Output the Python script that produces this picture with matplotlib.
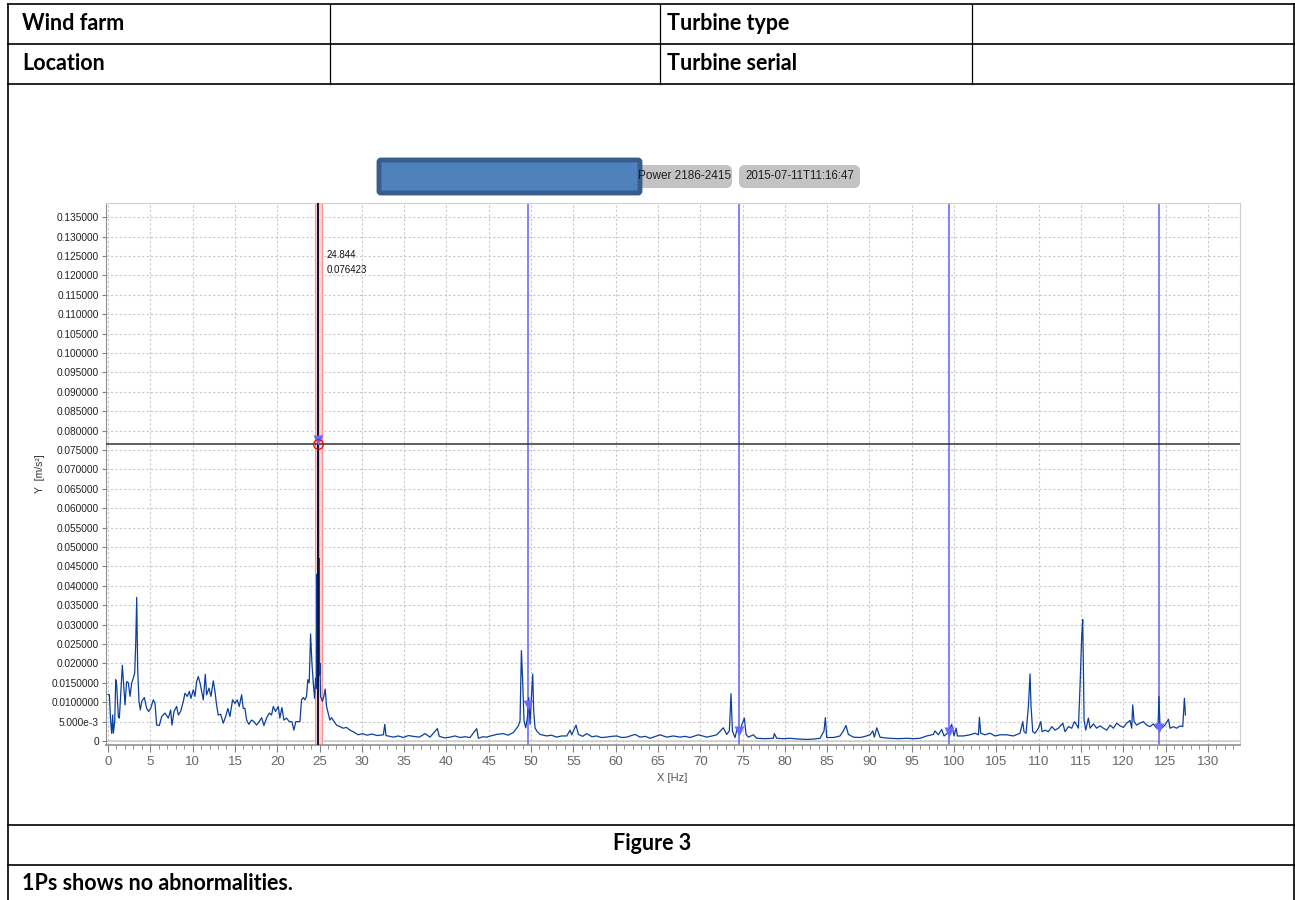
import matplotlib
matplotlib.use("Agg")
import matplotlib.pyplot as plt
from matplotlib.patches import FancyBboxPatch
from matplotlib.ticker import MultipleLocator

plt.rcParams['font.family'] = ['Liberation Sans', 'DejaVu Sans']

# spectrum (Hz, m/s^2)
freq_hz = [
    0.00, 0.16, 0.31, 0.43, 0.55, 0.63, 0.79, 0.91, 1.02, 1.22, 1.34, 1.50, 1.69, 1.85, 2.01,
    2.20, 2.40, 2.60, 2.80, 2.99, 3.15, 3.27, 3.39, 3.50, 3.66, 3.82, 3.98, 4.29, 4.57, 4.80,
    5.04, 5.35, 5.55, 5.75, 6.06, 6.34, 6.73, 7.13, 7.40, 7.56, 7.80, 8.11, 8.31, 8.58, 8.90,
    9.09, 9.37, 9.61, 9.80, 10.08, 10.28, 10.47, 10.67, 10.87, 11.06, 11.26, 11.50, 11.65, 11.93,
    12.17, 12.44, 12.64, 12.83, 13.03, 13.31, 13.62, 13.90, 14.17, 14.41, 14.72, 15.00, 15.28,
    15.51, 15.79, 15.98, 16.18, 16.38, 16.65, 16.97, 17.24, 17.56, 17.87, 18.15, 18.43, 18.74,
    19.06, 19.33, 19.53, 19.80, 20.12, 20.31, 20.55, 20.79, 21.10, 21.42, 21.73, 21.97, 22.20,
    22.48, 22.68, 22.87, 23.07, 23.27, 23.46, 23.62, 23.78, 23.94, 24.09, 24.25, 24.41, 24.53,
    24.65, 24.70, 24.76, 24.844, 24.90, 24.95, 25.00, 25.05, 25.12, 25.35, 25.51, 25.67, 25.83,
    26.02, 26.22, 26.42, 26.61, 27.01, 27.40, 27.80, 28.19, 28.58, 28.98, 29.57,
    30.1, 30.6, 31.2, 31.8, 32.55, 32.71, 32.86, 33.3, 33.73, 34.3, 34.91, 35.5, 36.09, 36.8,
    37.47, 38.06, 38.93, 39.16, 39.8, 40.43, 41.0, 41.61, 42.2, 42.79, 43.58, 43.78, 44.3,
    44.76, 45.4, 45.94, 46.73, 47.3, 47.91, 48.50, 48.70, 48.86, 49.01, 49.17,
    49.37, 49.57, 49.73, 49.88, 50.04, 50.20, 50.31, 50.47, 50.67, 51.06, 51.85, 52.4, 53.03,
    53.6, 54.22, 54.61, 54.81, 55.32, 55.60, 56.1, 56.58, 57.2, 57.76, 58.3, 58.94, 59.5, 60.12,
    60.7, 61.31, 62.29, 62.88, 63.5, 64.07,
    64.6, 65.25, 66.04, 66.82, 67.61, 68.2, 68.79, 69.78, 70.77, 71.4, 71.95, 72.73, 73.13,
    73.44, 73.64, 73.80, 74.11, 74.39, 74.70, 74.94, 75.22, 75.41, 75.69, 76.28, 76.67, 77.6,
    78.64, 78.76, 79.04, 79.8, 80.61, 81.6, 82.58, 83.4, 84.16, 84.63, 84.79, 84.95, 85.74,
    86.52, 86.92, 87.23, 87.51, 88.10, 88.89, 89.5, 90.07, 90.39, 90.58, 90.86, 91.25, 91.8,
    92.43, 93.4, 94.40, 95.2, 95.98, 96.77, 97.56, 97.75, 98.15, 98.54, 98.82,
    99.33, 99.72, 100.0, 100.24, 100.40, 101.1, 101.9, 102.48, 102.88, 103.0, 103.15, 103.66,
    104.26, 104.85, 105.44, 106.23, 107.01, 107.80, 108.12, 108.27, 108.51, 108.79, 108.98,
    109.10, 109.30, 109.57, 109.97, 110.25, 110.40, 110.76, 111.15, 111.55, 111.94, 112.33,
    112.85, 113.12, 113.52, 113.91, 114.23, 114.50, 114.70, 114.89, 115.09, 115.21, 115.37,
    115.56, 115.88, 116.08, 116.47, 116.86, 117.26, 117.65, 118.05, 118.44, 118.83, 119.23,
    119.62, 120.02, 120.41, 120.80, 121.0, 121.12, 121.28, 121.59, 121.99, 122.38, 122.77,
    123.17, 123.56, 123.96, 124.10, 124.22, 124.35, 124.55, 124.94, 125.34, 125.53, 125.93,
    126.32, 126.71, 127.03, 127.23, 127.35,
]
accel = [
    0.0120, 0.0119, 0.0050, 0.0020, 0.0067, 0.0020, 0.0050, 0.0158, 0.0145, 0.0063, 0.0059,
    0.0119, 0.0195, 0.0145, 0.0093, 0.0153, 0.0150, 0.0115, 0.0150, 0.0162, 0.0175, 0.0248,
    0.0370, 0.0188, 0.0102, 0.0080, 0.0102, 0.0112, 0.0084, 0.0076, 0.0084, 0.0106, 0.0097,
    0.0041, 0.0040, 0.0063, 0.0072, 0.0059, 0.0080, 0.0041, 0.0076, 0.0089, 0.0067, 0.0076,
    0.0102, 0.0123, 0.0115, 0.0128, 0.0110, 0.0132, 0.0115, 0.0153, 0.0166, 0.0150, 0.0128,
    0.0106, 0.0172, 0.0119, 0.0136, 0.0115, 0.0155, 0.0128, 0.0093, 0.0067, 0.0069, 0.0046,
    0.0063, 0.0084, 0.0063, 0.0106, 0.0097, 0.0106, 0.0089, 0.0119, 0.0084, 0.0084, 0.0054,
    0.0043, 0.0054, 0.0050, 0.0041, 0.0050, 0.0060, 0.0040, 0.0059, 0.0072, 0.0067, 0.0089,
    0.0076, 0.0089, 0.0059, 0.0086, 0.0054, 0.0059, 0.0050, 0.0050, 0.0028, 0.0050, 0.0050,
    0.0050, 0.0106, 0.0112, 0.0106, 0.0115, 0.0158, 0.0150, 0.0276, 0.0205, 0.0153, 0.0110,
    0.0162, 0.0136, 0.0430, 0.0180, 0.1370, 0.0300, 0.0470, 0.0170, 0.0200, 0.0115, 0.0102,
    0.0115, 0.0134, 0.0089, 0.0072, 0.0054, 0.0060, 0.0054, 0.0041, 0.0037, 0.0033, 0.0035,
    0.0028, 0.0024, 0.0016,
    0.0019, 0.0015, 0.0018, 0.0014, 0.0016, 0.0043, 0.0014, 0.0012, 0.0010, 0.0013, 0.0009,
    0.0014, 0.0012, 0.0010, 0.0019, 0.0010, 0.0032, 0.0012, 0.0008, 0.0010, 0.0013, 0.0009,
    0.0011, 0.0009, 0.0032, 0.0007, 0.0011, 0.0010, 0.0014, 0.0017, 0.0019, 0.0015, 0.0022,
    0.0039, 0.0052, 0.0233, 0.0155, 0.0052,
    0.0034, 0.0060, 0.0112, 0.0043, 0.0112, 0.0172, 0.0078, 0.0034, 0.0026, 0.0017, 0.0013,
    0.0015, 0.0010, 0.0013, 0.0013, 0.0028, 0.0016, 0.0041, 0.0017, 0.0012, 0.0019, 0.0011,
    0.0013, 0.0009, 0.0010, 0.0012, 0.0013, 0.0009, 0.0010, 0.0017, 0.0010, 0.0012, 0.0007,
    0.0011, 0.0016, 0.0010, 0.0013, 0.0010, 0.0012, 0.0009, 0.0016, 0.0010, 0.0013, 0.0016,
    0.0034, 0.0017, 0.0026, 0.0122, 0.0026, 0.0009, 0.0034, 0.0026, 0.0043, 0.0059, 0.0017,
    0.0010, 0.0016, 0.0007, 0.0006, 0.0007, 0.0019, 0.0007, 0.0006, 0.0007, 0.0005, 0.0004,
    0.0005, 0.0007, 0.0026, 0.0060, 0.0009, 0.0009, 0.0013, 0.0026, 0.0040, 0.0017, 0.0010,
    0.0009, 0.0012, 0.0016, 0.0026, 0.0010, 0.0034, 0.0010, 0.0008, 0.0007, 0.0006, 0.0007,
    0.0006, 0.0007, 0.0013, 0.0017, 0.0026, 0.0016, 0.0030, 0.0013, 0.0022, 0.0043, 0.0013,
    0.0033, 0.0013, 0.0013, 0.0016, 0.0020, 0.0016, 0.0061, 0.0020, 0.0016, 0.0020, 0.0013,
    0.0016, 0.0016, 0.0013, 0.0020, 0.0050, 0.0024, 0.0020, 0.0089, 0.0173, 0.0089, 0.0024,
    0.0020, 0.0033, 0.0050, 0.0024, 0.0028, 0.0024, 0.0037, 0.0028, 0.0033, 0.0046, 0.0024,
    0.0037, 0.0033, 0.0050, 0.0041, 0.0033, 0.0140, 0.0270, 0.0313, 0.0054, 0.0028, 0.0059,
    0.0033, 0.0044, 0.0033, 0.0039, 0.0033, 0.0028, 0.0041, 0.0033, 0.0046, 0.0039, 0.0035,
    0.0046, 0.0053, 0.0033, 0.0093, 0.0050, 0.0041, 0.0046, 0.0050, 0.0041, 0.0037, 0.0044,
    0.0033, 0.0033, 0.0115, 0.0033, 0.0033, 0.0041, 0.0056, 0.0033, 0.0037, 0.0033, 0.0039,
    0.0037, 0.0110, 0.0067,
]

cursor_hz = 24.844
cursor_val = 0.076423
cursor_marker_val = 0.0775
harmonic_hz = [49.688, 74.532, 99.376, 124.22]
harmonic_marker_val = [0.0092, 0.0027, 0.0022, 0.0033]

y_ticks = [i * 0.005 for i in range(28)]
y_tick_labels = ['0', '5.000e-3', '0.0100000', '0.0150000'] + \
    ['0.%06d' % (i * 5000) for i in range(4, 28)]

W, H = 1295, 900
fig = plt.figure(figsize=(W / 100, H / 100), dpi=100)

# page / table layer in pixel coordinates
bg = fig.add_axes([0, 0, 1, 1], zorder=0)
bg.set_xlim(0, W)
bg.set_ylim(H, 0)
bg.axis('off')

lk = dict(color='black', lw=1.2)
for yy in [4, 44, 84, 825, 865]:
    bg.plot([8, W], [yy, yy], **lk)
bg.plot([8, 8], [4, H], **lk)
bg.plot([W - 1, W - 1], [4, H], **lk)
for xx in [330, 660, 972]:
    bg.plot([xx, xx], [4, 84], color='black', lw=0.9)

hdr = dict(fontsize=15.5, fontweight='bold', family=['Lato', 'DejaVu Sans'],
           va='center', ha='left')
bg.text(22, 23, 'Wind farm', **hdr)
bg.text(22, 63, 'Location', **hdr)
bg.text(667, 23, 'Turbine type', **hdr)
bg.text(667, 63, 'Turbine serial', **hdr)
bg.text(652, 844, 'Figure 3', fontsize=15.5, fontweight='bold',
        family=['Lato', 'DejaVu Sans'], ha='center', va='center')
bg.text(22, 884, '1Ps shows no abnormalities.', **hdr)

# header chips of the analysis tool
bg.add_patch(FancyBboxPatch((520, 165), 212, 23, boxstyle='round,pad=0,rounding_size=6',
                            facecolor='#c3c3c3', edgecolor='none'))
bg.text(731, 176, 'Power 2186-2415', fontsize=8.5, ha='right', va='center', color='#202020')
bg.add_patch(FancyBboxPatch((739, 165), 121, 23, boxstyle='round,pad=0,rounding_size=6',
                            facecolor='#c3c3c3', edgecolor='none'))
bg.text(799.5, 176, '2015-07-11T11:16:47', fontsize=8.3, ha='center', va='center',
        color='#202020')
bg.add_patch(FancyBboxPatch((379, 160), 261, 33, boxstyle='round,pad=0,rounding_size=2',
                            facecolor='#4f81bd', edgecolor='#385d8a', lw=3.5))

bg.text(40, 474, 'Y  [m/s\u00b2]', rotation=90, fontsize=7.5, ha='center', va='center',
        color='#333333')
bg.text(672, 778, 'X [Hz]', fontsize=8, ha='center', va='center', color='#555555')

# spectrum plot
ax = fig.add_axes([106 / W, 1 - 745 / H, (1240 - 106) / W, (745 - 203) / H], zorder=1)
ax.set_xlim(-0.24, 133.8)
ax.set_ylim(-0.00103, 0.13864)

ax.xaxis.set_major_locator(MultipleLocator(5))
ax.xaxis.set_minor_locator(MultipleLocator(1))
ax.set_yticks(y_ticks)
ax.set_yticklabels(y_tick_labels)
ax.tick_params(axis='y', labelsize=7.3, colors='#808080', labelcolor='#222222',
               length=3, width=0.8, pad=2)
ax.tick_params(axis='x', which='major', labelsize=9.5, colors='#808080',
               labelcolor='#666666', length=5, width=0.8, pad=3)
ax.tick_params(axis='x', which='minor', colors='#808080', length=3, width=0.6)

ax.grid(True, which='major', color='#c8c8c8', linestyle=(0, (2, 2)), lw=0.8)
for side in ['top', 'right']:
    ax.spines[side].set_color('#d0d0d0')
ax.spines['left'].set_color('#909090')
ax.spines['bottom'].set_color('#909090')
ax.spines['bottom'].set_linewidth(1.2)
ax.axhline(0, color='#d8d8d8', lw=1.5, zorder=1)

ax.axvspan(cursor_hz - 0.33, cursor_hz + 0.42, facecolor='#ffd0d0', edgecolor='#ff9090',
           lw=0.8, zorder=2)
for hz in harmonic_hz:
    ax.axvline(hz, color='#7777ff', lw=1.3, zorder=2)

ax.plot(freq_hz, accel, color='#0d3f9f', lw=0.9, zorder=3)

ax.axvline(cursor_hz, color='#111133', lw=1.4, zorder=4)
ax.axhline(cursor_val, color='#333333', lw=1.1, zorder=4)
ax.plot([cursor_hz], [cursor_marker_val], marker='v', ms=7, color='#6a6aff',
        mec='none', zorder=5)
ax.plot(harmonic_hz, harmonic_marker_val, 'v', ms=7, color='#6a6aff', mec='none', zorder=5)
ax.plot([cursor_hz], [cursor_val], marker='o', ms=7, mfc='none', mec='red', mew=0.9,
        zorder=6)
ax.text(cursor_hz + 1.0, 0.1265, '24.844\n0.076423', fontsize=7, va='top', ha='left',
        linespacing=1.6, color='#111111')

fig.savefig('out.png', dpi=100)
